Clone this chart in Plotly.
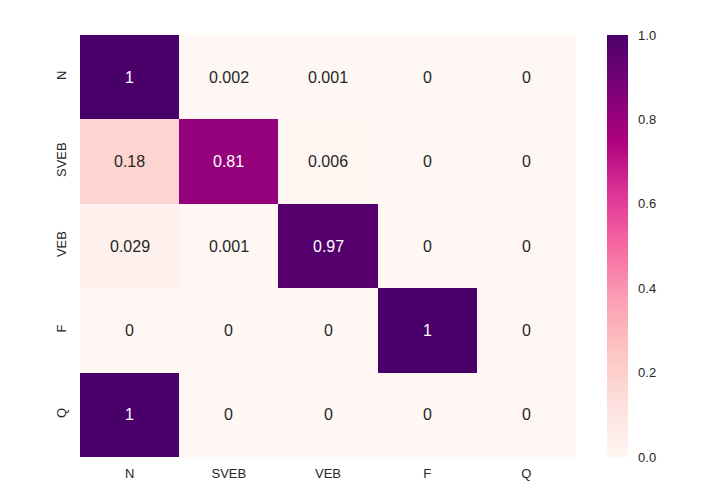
import plotly.graph_objects as go

x_labels = ["N", "SVEB", "VEB", "F", "Q"]
y_labels = ["N", "SVEB", "VEB", "F", "Q"]
row_N = [1, 0.002, 0.001, 0, 0]
row_SVEB = [0.18, 0.81, 0.006, 0, 0]
row_VEB = [0.029, 0.001, 0.97, 0, 0]
row_F = [0, 0, 0, 1, 0]
row_Q = [1, 0, 0, 0, 0]
z = [row_N, row_SVEB, row_VEB, row_F, row_Q]

font_family = "Liberation Sans, Arial, sans-serif"
dark = "#262626"

fig = go.Figure(go.Heatmap(
    z=z, x=x_labels, y=y_labels,
    colorscale="RdPu", zmin=0, zmax=1,
    xgap=0, ygap=0,
    colorbar=dict(
        x=1.0625, xanchor="left", xref="paper", xpad=0, ypad=0,
        y=0.5, yanchor="middle", len=1.0, lenmode="fraction",
        thickness=21, outlinewidth=0,
        tickvals=[0, 0.2, 0.4, 0.6, 0.8, 1.0],
        ticktext=["0.0", "0.2", "0.4", "0.6", "0.8", "1.0"],
        ticks="outside", ticklen=8, tickcolor="rgba(0,0,0,0)",
        tickfont=dict(family=font_family, size=13, color=dark),
    ),
    hoverinfo="skip",
))

annotations = []
for i, yl in enumerate(y_labels):
    for j, xl in enumerate(x_labels):
        v = z[i][j]
        annotations.append(dict(
            x=xl, y=yl, xref="x", yref="y", text=f"{v:g}", showarrow=False,
            font=dict(family=font_family, size=16, color="white" if v > 0.6 else dark),
        ))

fig.update_layout(
    width=704, height=500,
    margin=dict(l=72, r=136, t=27, b=51),
    paper_bgcolor="white", plot_bgcolor="white",
    annotations=annotations,
    xaxis=dict(showgrid=False, zeroline=False, showline=False,
               ticks="outside", ticklen=4, tickcolor="rgba(0,0,0,0)",
               tickfont=dict(family=font_family, size=13, color=dark)),
    yaxis=dict(showgrid=False, zeroline=False, showline=False, autorange="reversed",
               tickangle=-90,
               ticks="outside", ticklen=8, tickcolor="rgba(0,0,0,0)",
               tickfont=dict(family=font_family, size=13, color=dark)),
)

fig.write_html("out.html")
